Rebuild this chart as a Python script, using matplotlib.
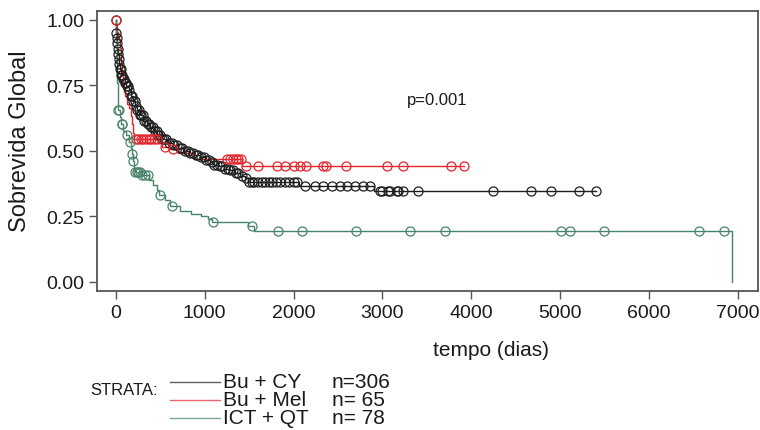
import numpy as np
import matplotlib
matplotlib.use("Agg")
import matplotlib.pyplot as plt
from matplotlib import font_manager as fm

# ── data ──────────────────────────────────────────────────────────────────────
black_t = [0, 4, 8, 12, 16, 20, 26, 32, 40, 50, 62, 80, 100, 120, 145, 170, 195,
           220, 245, 275, 310, 350, 390, 430, 470, 520, 580, 640, 700, 760, 830,
           880, 950, 1010, 1060, 1110, 1160, 1220, 1290, 1340, 1400, 1450, 1490,
           2060, 2900, 5400]
black_s = [1.0, 0.97, 0.95, 0.93, 0.91, 0.89, 0.87, 0.85, 0.83, 0.81, 0.79, 0.775,
           0.76, 0.745, 0.73, 0.71, 0.69, 0.67, 0.655, 0.635, 0.615, 0.60, 0.59,
           0.575, 0.56, 0.545, 0.53, 0.52, 0.51, 0.50, 0.49, 0.485, 0.475, 0.465,
           0.455, 0.447, 0.44, 0.432, 0.425, 0.415, 0.405, 0.395, 0.379, 0.366,
           0.347, 0.347]
black_cens = [3, 8, 12, 18, 22, 28, 35, 42, 50, 58, 65, 75, 85, 95, 105, 115, 125,
              140, 155, 170, 185, 200, 215, 230, 245, 260, 275, 290, 305, 320, 340,
              360, 380, 400, 420, 440, 460, 480, 500, 520, 545, 570, 600, 630, 660,
              690, 720, 750, 780, 810, 840, 870, 900, 930, 960, 990, 1020, 1050,
              1080, 1110, 1140, 1170, 1200, 1230, 1260, 1290, 1320, 1350, 1380,
              1420, 1460, 1500, 1530, 1560, 1600, 1640, 1680, 1720, 1760, 1800,
              1850, 1900, 1950, 2000, 2040, 2130, 2240, 2330, 2430, 2520, 2600,
              2690, 2780, 2860, 2970, 2990, 3060, 3080, 3160, 3180, 3230, 3400,
              4240, 4670, 4900, 5210, 5400]

red_t = [0, 6, 12, 20, 28, 36, 45, 55, 65, 75, 85, 95, 110, 130, 150, 170, 185,
         195, 210, 480, 520, 600, 700, 880, 1420, 3920]
red_s = [1.0, 0.985, 0.969, 0.954, 0.938, 0.923, 0.892, 0.862, 0.831, 0.80, 0.754,
         0.723, 0.708, 0.677, 0.662, 0.631, 0.60, 0.569, 0.545, 0.53, 0.515, 0.505,
         0.49, 0.47, 0.443, 0.443]
red_cens = [5, 230, 255, 280, 310, 340, 370, 400, 430, 460, 555, 650, 1250, 1290,
            1320, 1350, 1380, 1405, 1470, 1600, 1810, 1900, 2000, 2070, 2140, 2330,
            2365, 2585, 3050, 3230, 3770, 3920]

green_t = [0, 3, 6, 9, 12, 15, 18, 21, 25, 28, 50, 65, 80, 120, 150, 170, 178,
           190, 205, 215, 290, 370, 420, 460, 490, 560, 610, 720, 850, 960, 1040,
           1080, 1490, 1560, 6933]
green_s = [1.0, 0.96, 0.92, 0.88, 0.84, 0.80, 0.76, 0.72, 0.68, 0.655, 0.63, 0.60,
           0.575, 0.56, 0.535, 0.51, 0.487, 0.46, 0.435, 0.42, 0.408, 0.39, 0.37,
           0.35, 0.33, 0.31, 0.29, 0.271, 0.258, 0.252, 0.239, 0.227, 0.214, 0.193,
           0.0]
green_cens = [29, 35, 67, 75, 124, 161, 180, 198, 215, 235, 255, 273, 300, 329,
              366, 498, 629, 1097, 1528, 1827, 2090, 2700, 3315, 3700, 5003, 5104,
              5490, 6557, 6846]

strata = ["Bu + CY", "Bu + Mel", "ICT + QT"]
strata_n = ["n=306", "n= 65", "n= 78"]
colors = ["#1e1e1e", "#e3262c", "#4a8468"]

x_ticks = [0, 1000, 2000, 3000, 4000, 5000, 6000, 7000]
y_ticks = [0.0, 0.25, 0.5, 0.75, 1.0]

# ── fonts ─────────────────────────────────────────────────────────────────────
names = {f.name for f in fm.fontManager.ttflist}
narrow = "Liberation Sans Narrow" if "Liberation Sans Narrow" in names else "Liberation Sans"
plt.rcParams["font.family"] = ["Liberation Sans", "DejaVu Sans"]

fig = plt.figure(figsize=(7.6, 4.31), dpi=100)
fig.patch.set_facecolor("white")
ax = fig.add_axes([0.1272, 0.3225, 0.870, 0.6497])

series = [(black_t, black_s, black_cens), (red_t, red_s, red_cens),
          (green_t, green_s, green_cens)]

for (t, s, cens), c in zip(series, colors):
    t = np.asarray(t, float)
    s = np.asarray(s, float)
    ax.step(t, s, where="post", color=c, linewidth=1.0, zorder=2)
    cy = s[np.searchsorted(t, cens, side="right") - 1]
    ax.plot(cens, cy, linestyle="none", marker="o", markersize=6.5,
            markerfacecolor="none", markeredgecolor=c, markeredgewidth=0.9,
            zorder=3)

ax.set_xlim(-214, 7222)
ax.set_ylim(-0.0355, 1.0332)
ax.set_xticks(x_ticks)
ax.set_yticks(y_ticks)
ax.set_yticklabels([f"{v:.2f}" for v in y_ticks])
ax.tick_params(direction="out", length=6, width=1.0, color="#555555",
               labelsize=14, pad=3)
for lab in ax.get_xticklabels() + ax.get_yticklabels():
    lab.set_family([narrow, "DejaVu Sans"])
    lab.set_color("#1a1a1a")
for sp in ax.spines.values():
    sp.set_edgecolor("#555555")
    sp.set_linewidth(1.3)

ax.text(3610, 0.697, "p=0.001", fontsize=12, ha="center", va="center",
        color="#1a1a1a")

# axis titles
fig.text(491 / 760, 1 - 350 / 431, "tempo (dias)", fontsize=15, ha="center",
         va="center", family=[narrow, "DejaVu Sans"], color="#1a1a1a")
fig.text(20 / 760, 1 - 141 / 431, "Sobrevida Global", fontsize=17,
         rotation=90, ha="center", va="center", color="#1a1a1a")

# strata legend
fig.text(90 / 760, 1 - 391 / 431, "STRATA:", fontsize=12, ha="left",
         va="center", family=[narrow, "DejaVu Sans"], color="#1a1a1a")
rows_y = [383, 401, 419]
for name, n, c, yp in zip(strata, strata_n, colors, rows_y):
    yf = 1 - yp / 431
    fig.add_artist(plt.Line2D([170 / 760, 220 / 760], [yf, yf], color=c,
                              linewidth=1.0, alpha=0.7))
    fig.text(223 / 760, yf, name, fontsize=15, ha="left", va="center",
             color="#1a1a1a")
    fig.text(332 / 760, yf, n, fontsize=15, ha="left", va="center",
             color="#1a1a1a")

fig.savefig("out.png", dpi=100, facecolor="white")
